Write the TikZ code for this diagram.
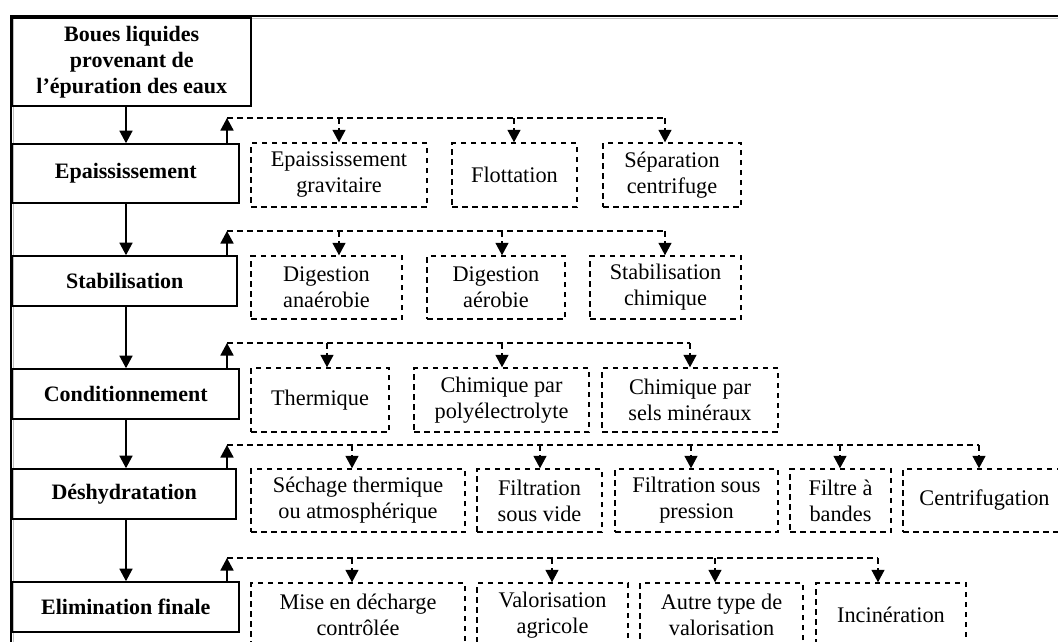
\documentclass[tikz,border=0pt]{standalone}
\usepackage{fontspec}
\setmainfont{Liberation Serif}
\usetikzlibrary{arrows.meta}
\begin{document}
\begin{tikzpicture}[x=1pt,y=-1pt,
  mainbox/.style={draw,line width=1.6pt,inner sep=0pt,align=center,font=\fontsize{22}{26}\selectfont\bfseries},
  subbox/.style={draw,line width=1.4pt,dash pattern=on 5.5pt off 4.5pt,inner sep=0pt,align=center,font=\fontsize{22.3}{26}\selectfont},
  flow/.style={line width=1.6pt,-{Triangle[length=12.5pt,width=13pt]}},
  dline/.style={line width=1.4pt,dash pattern=on 5.5pt off 4.5pt},
  drop/.style={dline,-{Triangle[length=12.5pt,width=13pt]}}]
\path[use as bounding box] (0,0) rectangle (1058,642);
\clip (0,0) rectangle (1058,642);
% frame
\draw[line width=2pt] (11,648) -- (11,16.5) -- (1065,16.5);
\draw[gray!50,line width=0.8pt] (13,648) -- (13,18.6) -- (1065,18.6);
% main column
\node[mainbox,minimum width=238.5pt,minimum height=88pt] (m0) at (131.75,62) {Boues liquides\\provenant de\\l’épuration des eaux};
\node[mainbox,minimum width=226.5pt,minimum height=59pt] (m1) at (125.75,173.5) {Epaississement};
\node[mainbox,minimum width=224.5pt,minimum height=50pt] (m2) at (124.75,281) {Stabilisation};
\node[mainbox,minimum width=226.5pt,minimum height=50pt] (m3) at (125.75,394) {Conditionnement};
\node[mainbox,minimum width=223.5pt,minimum height=50pt] (m4) at (124.25,494) {Déshydratation};
\node[mainbox,minimum width=226.5pt,minimum height=50pt] (m5) at (125.75,607) {Elimination finale};
\coordinate (ax) at (126,0);
\draw[flow] (m0.south -| ax) -- (m1.north -| ax);
\draw[flow] (m1.south -| ax) -- (m2.north -| ax);
\draw[flow] (m2.south -| ax) -- (m3.north -| ax);
\draw[flow] (m3.south -| ax) -- (m4.north -| ax);
\draw[flow] (m4.south -| ax) -- (m5.north -| ax);
% row 1
\node[subbox,minimum width=176pt,minimum height=64pt] (s11) at (339,175) {Epaississement\\gravitaire};
\node[subbox,minimum width=125pt,minimum height=64pt] (s12) at (514.5,175) {Flottation};
\node[subbox,minimum width=138pt,minimum height=64pt] (s13) at (672,175) {Séparation\\centrifuge};
\coordinate (u1) at (227,118);
\coordinate (t11) at (339,118);
\coordinate (t12) at (514,118);
\coordinate (t13) at (665,118);
\draw[flow] (m1.north -| u1) -- (u1);
\draw[dline] (u1) -- (t13);
\draw[drop] (t11) -- (t11 |- s11.north);
\draw[drop] (t12) -- (t12 |- s12.north);
\draw[drop] (t13) -- (t13 |- s13.north);
% row 2
\node[subbox,minimum width=151pt,minimum height=63pt] (s21) at (326.5,287.5) {Digestion\\anaérobie};
\node[subbox,minimum width=138pt,minimum height=63pt] (s22) at (496,287.5) {Digestion\\aérobie};
\node[subbox,minimum width=151pt,minimum height=63pt] (s23) at (665.5,287.5) {Stabilisation\\chimique};
\coordinate (u2) at (227,231);
\coordinate (t21) at (339,231);
\coordinate (t22) at (502,231);
\coordinate (t23) at (665,231);
\draw[flow] (m2.north -| u2) -- (u2);
\draw[dline] (u2) -- (t23);
\draw[drop] (t21) -- (t21 |- s21.north);
\draw[drop] (t22) -- (t22 |- s22.north);
\draw[drop] (t23) -- (t23 |- s23.north);
% row 3
\node[subbox,minimum width=138pt,minimum height=64pt] (s31) at (320,400) {Thermique};
\node[subbox,minimum width=175pt,minimum height=64pt] (s32) at (501.5,400) {Chimique par\\polyélectrolyte};
\node[subbox,minimum width=176pt,minimum height=64pt] (s33) at (690,400) {Chimique par\\sels minéraux};
\coordinate (u3) at (227,343);
\coordinate (t31) at (327,343);
\coordinate (t32) at (502,343);
\coordinate (t33) at (690,343);
\draw[flow] (m3.north -| u3) -- (u3);
\draw[dline] (u3) -- (t33);
\draw[drop] (t31) -- (t31 |- s31.north);
\draw[drop] (t32) -- (t32 |- s32.north);
\draw[drop] (t33) -- (t33 |- s33.north);
% row 4
\node[subbox,minimum width=214pt,minimum height=63pt] (s41) at (358,500.5) {Séchage thermique\\ou atmosphérique};
\node[subbox,minimum width=125pt,minimum height=63pt] (s42) at (539.5,500.5) {Filtration\\sous vide};
\node[subbox,minimum width=163pt,minimum height=63pt] (s43) at (696.5,500.5) {Filtration sous\\pression};
\node[subbox,minimum width=101pt,minimum height=63pt] (s44) at (840.5,500.5) {Filtre à\\bandes};
\node[subbox,minimum width=163pt,minimum height=63pt] (s45) at (984.5,500.5) {Centrifugation};
\coordinate (u4) at (227,445);
\coordinate (t41) at (352,445);
\coordinate (t42) at (540,445);
\coordinate (t43) at (691,445);
\coordinate (t44) at (840,445);
\coordinate (t45) at (979,445);
\draw[flow] (m4.north -| u4) -- (u4);
\draw[dline] (u4) -- (t45);
\draw[drop] (t41) -- (t41 |- s41.north);
\draw[drop] (t42) -- (t42 |- s42.north);
\draw[drop] (t43) -- (t43 |- s43.north);
\draw[drop] (t44) -- (t44 |- s44.north);
\draw[drop] (t45) -- (t45 |- s45.north);
% row 5
\node[subbox,minimum width=214pt,minimum height=64pt] (s51) at (358,615) {Mise en décharge\\contrôlée};
\node[subbox,minimum width=151pt,minimum height=64pt] (s52) at (552.5,615) {Valorisation\\agricole};
\node[subbox,minimum width=163pt,minimum height=64pt] (s53) at (721.5,615) {Autre type de\\valorisation};
\node[subbox,minimum width=150pt,minimum height=64pt] (s54) at (891,615) {Incinération};
\coordinate (u5) at (227,558);
\coordinate (t51) at (352,558);
\coordinate (t52) at (552,558);
\coordinate (t53) at (715,558);
\coordinate (t54) at (878,558);
\draw[flow] (m5.north -| u5) -- (u5);
\draw[dline] (u5) -- (t54);
\draw[drop] (t51) -- (t51 |- s51.north);
\draw[drop] (t52) -- (t52 |- s52.north);
\draw[drop] (t53) -- (t53 |- s53.north);
\draw[drop] (t54) -- (t54 |- s54.north);
\end{tikzpicture}
\end{document}
